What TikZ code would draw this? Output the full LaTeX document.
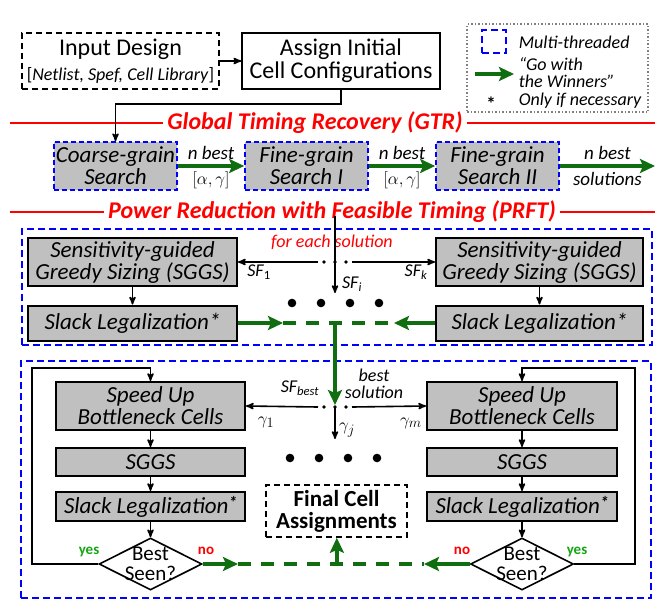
\documentclass[tikz,border=0pt]{standalone}
\usepackage{fontspec}
\setmainfont{Carlito}
\usepackage{amsmath}
\usetikzlibrary{arrows,arrows.meta,shapes.geometric}
\definecolor{winner}{RGB}{16,110,16}
\definecolor{cellgray}{RGB}{192,192,192}
\definecolor{yesgreen}{RGB}{20,165,20}
\tikzset{boxtext/.style={font=\fontsize{23}{22}\selectfont\itshape,align=center}}
\newcommand{\onlyif}{\raisebox{5pt}{\fontsize{17}{17}\selectfont\bfseries *}}

\begin{document}
\begin{tikzpicture}[x=1pt,y=-1pt,>=stealth',line width=1.6pt,node distance=191pt]
  \tikzstyle{given}=[rectangle,draw=black,line width=1.7pt,align=center,minimum width=197pt,minimum height=56pt,inner sep=0pt,font=\fontsize{24}{23}\selectfont]
  \tikzstyle{search}=[rectangle,draw=blue,line width=1.7pt,dash pattern=on 5pt off 3pt,fill=cellgray,minimum width=123pt,minimum height=48pt,inner sep=0pt,boxtext]
  \tikzstyle{stage}=[rectangle,draw=black,line width=2pt,fill=cellgray,inner sep=0pt,boxtext]
  \tikzstyle{check}=[diamond,draw=black,line width=1.6pt,fill=white,aspect=2,minimum width=103pt,minimum height=52pt,inner sep=0pt]
  \tikzstyle{checktext}=[align=center,font=\fontsize{21}{20}\selectfont]
  \tikzstyle{win}=[draw=winner,line width=3.8pt,-{Stealth[length=15pt,width=14pt,inset=3pt]}]
  \tikzstyle{winlink}=[draw=winner,line width=3.8pt,dash pattern=on 13pt off 10pt]
  \tikzstyle{heading}=[text=red,font=\fontsize{24}{24}\selectfont\bfseries\itshape]
  \tikzstyle{lbl}=[font=\fontsize{19}{19}\selectfont\itshape,inner sep=1pt]
  \tikzstyle{keytext}=[font=\fontsize{18}{17}\selectfont\itshape,anchor=west,align=left,inner sep=1pt]
  \tikzstyle{multi}=[draw=blue,line width=1.7pt,dash pattern=on 7pt off 4pt]
  \tikzstyle{loose}=[dash pattern=on 6pt off 4pt]
  \tikzstyle{bigdot}=[fill=black]
  \tikzstyle{verdict}=[font=\fontsize{15}{15}\selectfont\bfseries]
  \useasboundingbox (0,0) rectangle (668,613);

  % inputs
  \node[given,loose] (input) at (120.5,61) {Input Design\\[2pt]{\fontsize{18}{18}\selectfont[\textit{Netlist, Spef, Cell Library}]}};
  \node[given,minimum width=198pt] (assign) at (341,61) {Assign Initial\\Cell Configurations};
  \draw[->] (input) -- (assign);

  % legend
  \node[draw=gray,dotted,line width=1.5pt,minimum width=181pt,minimum height=88pt] (legend) at (557.5,68) {};
  \node[multi,minimum width=24pt,minimum height=23pt] (mtkey) at (494,41.5) {};
  \node[keytext] (mttext) at (517,42) {Multi-threaded};
  \coordinate (winA) at (475,74);
  \coordinate (winB) at (514,74);
  \draw[win] (winA) -- (winB);
  \node[keytext] (wintext) at (517,73) {``Go with\\the Winners''};
  \node[font=\fontsize{19}{19}\selectfont\bfseries] (star) at (491,104) {*};
  \node[keytext] (startext) at (517,101) {Only if necessary};

  % GTR
  \node[heading] (gtr) at (315,123) {Global Timing Recovery (GTR)};
  \coordinate (gtrL) at (10,123);
  \coordinate (gtrR) at (655,123);
  \draw[red] (gtrL) -- (gtr.west) (gtr.east) -- (gtrR);

  \node[search] (coarse) at (115.5,166) {Coarse-grain\\Search};
  \node[search] (fine1) [right of=coarse] {Fine-grain\\Search I};
  \node[search] (fine2) [right of=fine1] {Fine-grain\\Search II};
  \coordinate (gtrout) at (655,166);
  \draw[->] (assign.south) -- ++(0,14) -| (coarse.north);
  \draw[win] (coarse) -- node[lbl,above=3pt] {n best} node[lbl,below=3pt] {$[\alpha,\gamma]$} (fine1);
  \draw[win] (fine1) -- node[lbl,above=3pt] {n best} node[lbl,below=3pt] {$[\alpha,\gamma]$} (fine2);
  \draw[win] (fine2) -- node[lbl,above=3pt] {n best} node[lbl,below=3pt] {solutions} (gtrout);

  % PRFT
  \node[heading] (prft) at (332,212) {Power Reduction with Feasible Timing (PRFT)};
  \coordinate (prftL) at (10,212);
  \coordinate (prftR) at (655,212);
  \draw[red] (prftL) -- (prft.west) (prft.east) -- (prftR);

  \node[multi,minimum width=630pt,minimum height=116pt] (pool1) at (337,287) {};
  \node[multi,minimum width=630pt,minimum height=237pt] (pool2) at (336,479.5) {};

  \node[stage,minimum width=209pt,minimum height=48pt] (sggs1) at (132.5,262) {Sensitivity-guided\\Greedy Sizing (SGGS)};
  \node[stage,minimum width=207pt,minimum height=48pt] (sggsk) at (539.5,262) {Sensitivity-guided\\Greedy Sizing (SGGS)};
  \node[stage,minimum width=209pt,minimum height=35pt] (slack1) at (132.5,323) {Slack Legalization*};
  \node[stage,minimum width=207pt,minimum height=35pt] (slackk) at (539.5,323) {Slack Legalization*};
  \draw[->] (sggs1) -- (slack1);
  \draw[->] (sggsk) -- (slackk);

  \node[text=red,font=\fontsize{18}{18}\selectfont\itshape] (each) at (332,242) {for each solution};
  \coordinate (fantop) at (335,216);
  \coordinate (sfi) at (335,293);
  \coordinate (fanL) at (318,262);
  \coordinate (fanR) at (352,262);
  \draw[->] (fantop) -- (sfi);
  \foreach \x in {324,335,346} \fill (\x,262) circle[radius=1.9pt];
  \draw[->] (fanL) -- (sggs1.east);
  \draw[->] (fanR) -- (sggsk.west);
  \node[lbl,font=\fontsize{18}{18}\selectfont\itshape] (sf1) at (259,272) {SF\textsubscript{\upshape 1}};
  \node[lbl,font=\fontsize{18}{18}\selectfont\itshape] (sfk) at (416,272) {SF\textsubscript{k}};
  \node[lbl,font=\fontsize{18}{18}\selectfont\itshape] (sfilbl) at (352,284) {SF\textsubscript{i}};
  \foreach \x in {292,321,350,379} \fill[bigdot] (\x,303) circle[radius=4.3pt];

  \coordinate (mergeL) at (283,323);
  \coordinate (mergeR) at (394,323);
  \coordinate (merge) at (335,323);
  \coordinate (gtarget) at (335,405);
  \draw[winlink] (mergeL) -- (mergeR);
  \draw[win] (slack1) -- (mergeL);
  \draw[win] (slackk) -- (mergeR);
  \draw[win] (merge) -- (gtarget);

  % bottleneck loops
  \node[stage,minimum width=189pt,minimum height=48pt] (speed1) at (150.5,406) {Speed Up\\Bottleneck Cells};
  \node[stage,minimum width=189pt,minimum height=28pt] (sggs2) at (150.5,462) {SGGS};
  \node[stage,minimum width=189pt,minimum height=29pt] (slack2) at (150.5,506.5) {Slack Legalization\onlyif};
  \node[check,label={[checktext]center:Best\\Seen?}] (best1) at (150.5,564) {};
  \node[stage,minimum width=190pt,minimum height=48pt] (speedm) at (522,406) {Speed Up\\Bottleneck Cells};
  \node[stage,minimum width=190pt,minimum height=28pt] (sggsm) at (522,462) {SGGS};
  \node[stage,minimum width=190pt,minimum height=29pt] (slackm) at (522,506.5) {Slack Legalization\onlyif};
  \node[check,label={[checktext]center:Best\\Seen?}] (bestm) at (522,564) {};
  \draw[->] (speed1) -- (sggs2);
  \draw[->] (sggs2) -- (slack2);
  \draw[->] (slack2) -- (best1);
  \draw[->] (speedm) -- (sggsm);
  \draw[->] (sggsm) -- (slackm);
  \draw[->] (slackm) -- (bestm);
  \coordinate (loop1) at (32,368);
  \coordinate (loopm) at (635,368);
  \draw[->] (best1.west) -| (loop1) -- (loop1 -| speed1.north) -- (speed1.north);
  \draw[->] (bestm.east) -| (loopm) -- (loopm -| speedm.north) -- (speedm.north);
  \node[verdict,text=yesgreen] (yes1) at (89,552) {yes};
  \node[verdict,text=red] (no1) at (206,551) {no};
  \node[verdict,text=red] (nom) at (462,551) {no};
  \node[verdict,text=yesgreen] (yesm) at (577,552) {yes};

  \coordinate (pick) at (335,407);
  \coordinate (pickL) at (318,407);
  \coordinate (pickR) at (352,407);
  \coordinate (gj) at (335,439);
  \foreach \x in {324,335,346} \fill (\x,407) circle[radius=1.9pt];
  \draw[->] (pick) -- (gj);
  \draw[->] (pickL) -- (speed1.east);
  \draw[->] (pickR) -- (speedm.west);
  \node[lbl,font=\fontsize{18}{18}\selectfont\itshape] (sfbest) at (300,388) {SF\textsubscript{best}};
  \node[lbl,align=center,font=\fontsize{18}{17}\selectfont\itshape] (bestsol) at (374,384) {best\\solution};
  \node[lbl] (g1) at (266,422) {$\gamma_1$};
  \node[lbl] (gjlbl) at (347,430) {$\gamma_j$};
  \node[lbl] (gm) at (411,423) {$\gamma_m$};
  \foreach \x in {290,319,348,377} \fill[bigdot] (\x,458) circle[radius=4.3pt];

  % final
  \node[rectangle,draw=black,loose,line width=1.6pt,minimum width=141pt,minimum height=52pt,align=center,font=\fontsize{23}{22}\selectfont\bfseries] (final) at (336.5,511) {Final Cell\\Assignments};
  \coordinate (noL) at (238,564);
  \coordinate (noR) at (424,564);
  \coordinate (join) at (337,564);
  \draw[winlink] (noL) -- (noR);
  \draw[win] (best1) -- (noL);
  \draw[win] (bestm) -- (noR);
  \draw[win] (join) -- (final);
\end{tikzpicture}
\end{document}
